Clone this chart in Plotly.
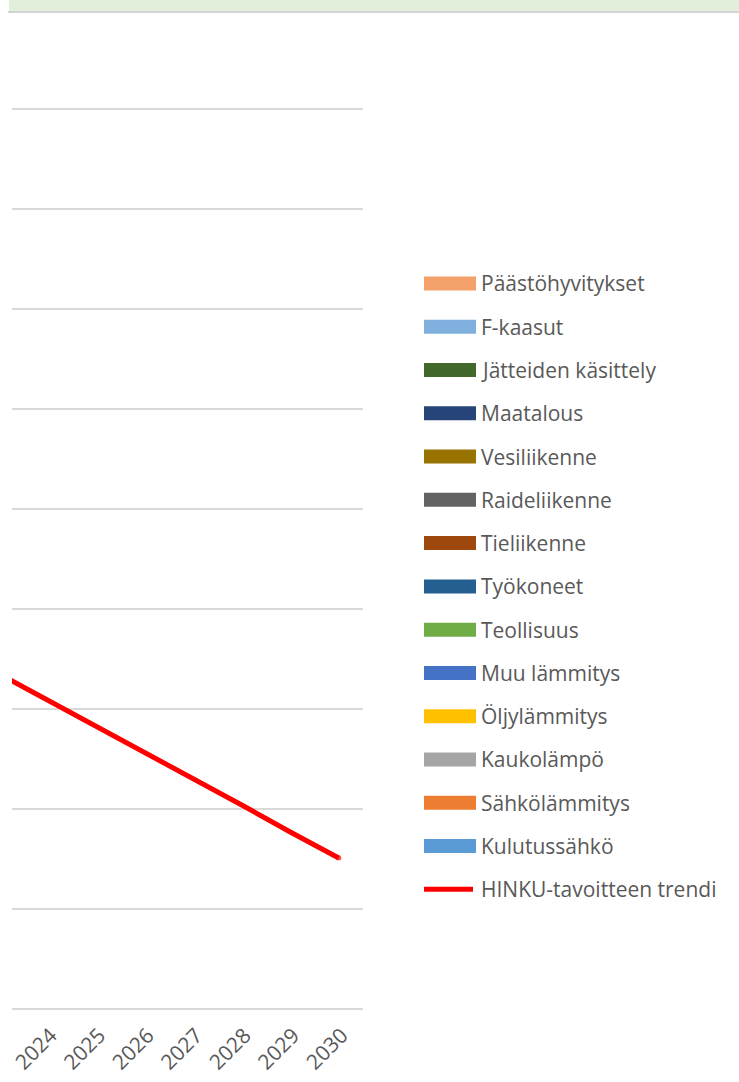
import plotly.graph_objects as go

# Years shown on the category axis
years = [2023, 2024, 2025, 2026, 2027, 2028, 2029, 2030]
tick_years = [2024, 2025, 2026, 2027, 2028, 2029, 2030]

# Linear HINKU target trend (emissions, kt CO2e)
trend_values = [33.5, 30.9, 28.2, 25.6, 23.0, 20.4, 17.7, 15.1]
trend_name = "HINKU-tavoitteen trendi"

# Emission sectors of the stacked bars (legend order, top to bottom)
sector_names = [
    "Päästöhyvitykset", "F-kaasut", "Jätteiden käsittely", "Maatalous",
    "Vesiliikenne", "Raideliikenne", "Tieliikenne", "Työkoneet",
    "Teollisuus", "Muu lämmitys", "Öljylämmitys", "Kaukolämpö",
    "Sähkölämmitys", "Kulutussähkö",
]
sector_colors = [
    "#F4A16B", "#7FB0DE", "#43682B", "#264478",
    "#997300", "#636363", "#9E480E", "#255E91",
    "#70AD47", "#4472C4", "#FFC000", "#A5A5A5",
    "#ED7D31", "#5B9BD5",
]
# No sector values are recorded for the projection years
sector_values = {name: [None] * len(tick_years) for name in sector_names}

W, H = 739, 1082
L, R, T, B = 12, 363, 9, 1009          # plot area in pixels
FONT = "Open Sans"
FSIZE = 21
TXT = "#595959"


def px_x(x):
    return (x - L) / (R - L)


def px_y(y):
    return (B - y) / (B - T)


fig = go.Figure()

# stacked sector bars, drawn bottom-up
for name, color in reversed(list(zip(sector_names, sector_colors))):
    fig.add_trace(go.Bar(x=tick_years, y=sector_values[name], name=name,
                         marker_color=color, showlegend=False))

fig.add_trace(go.Scatter(
    x=years, y=trend_values, mode="lines+markers", name=trend_name,
    line=dict(color="#FF0000", width=5),
    marker=dict(color="#FF0000", size=[0] * (len(years) - 1) + [5],
                line_width=0),
    showlegend=False,
))

shapes = []
annotations = []

# spreadsheet band above the chart
shapes.append(dict(type="rect", xref="paper", yref="paper",
                   x0=px_x(9), x1=px_x(W), y0=px_y(11), y1=px_y(-5),
                   fillcolor="#E2EFDA", line_width=0, layer="above"))
shapes.append(dict(type="line", xref="paper", yref="paper",
                   x0=px_x(8), x1=px_x(W), y0=px_y(12), y1=px_y(12),
                   line=dict(color="#D4D4D4", width=2), layer="above"))

# legend drawn as swatches with labels
row0, step = 283.5, 43.27
for i, (name, color) in enumerate(zip(sector_names, sector_colors)):
    yc = row0 + i * step
    shapes.append(dict(type="rect", xref="paper", yref="paper",
                       x0=px_x(424), x1=px_x(476),
                       y0=px_y(yc + 7), y1=px_y(yc - 7),
                       fillcolor=color, line_width=0))
    annotations.append(dict(xref="paper", yref="paper", x=px_x(479), y=px_y(yc),
                            text=name, showarrow=False, xanchor="left",
                            yanchor="middle",
                            font=dict(family=FONT, size=FSIZE, color=TXT)))
yc = row0 + len(sector_names) * step
shapes.append(dict(type="line", xref="paper", yref="paper",
                   x0=px_x(424), x1=px_x(473), y0=px_y(yc), y1=px_y(yc),
                   line=dict(color="#FF0000", width=5)))
annotations.append(dict(xref="paper", yref="paper", x=px_x(479), y=px_y(yc),
                        text=trend_name, showarrow=False, xanchor="left",
                        yanchor="middle",
                        font=dict(family=FONT, size=FSIZE, color=TXT)))

fig.update_layout(
    width=W, height=H,
    margin=dict(l=L, r=W - R, t=T, b=H - B, pad=0, autoexpand=False),
    paper_bgcolor="white", plot_bgcolor="white",
    barmode="stack",
    showlegend=False,
    shapes=shapes,
    annotations=annotations,
    xaxis=dict(
        range=[2030.5 - (R - L) / 48.5, 2030.5],
        tickmode="array", tickvals=tick_years,
        ticktext=[str(y) for y in tick_years],
        tickangle=-45, showgrid=False, zeroline=False,
        showline=False, ticks="", automargin=False,
        ticklabelstandoff=9, ticklabelshift=3,
        tickfont=dict(family=FONT, size=FSIZE, color=TXT),
    ),
    yaxis=dict(
        range=[0, 100], dtick=10, showticklabels=False,
        showgrid=True, gridcolor="#D9D9D9", gridwidth=2,
        zeroline=True, zerolinecolor="#D9D9D9", zerolinewidth=2,
        showline=False, ticks="", automargin=False,
    ),
)

fig.write_html("out.html")
